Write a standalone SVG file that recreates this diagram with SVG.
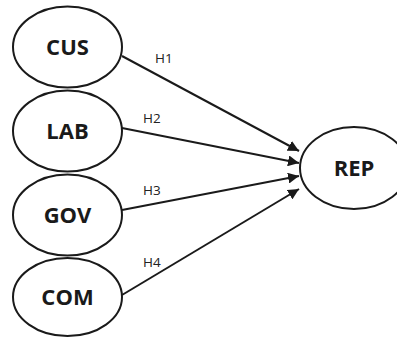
<svg xmlns="http://www.w3.org/2000/svg" width="397" height="337" viewBox="0 0 397 337">
<style>
.node ellipse{fill:#fff;stroke:#1a1a1a;stroke-width:2}
.node text{font-family:"Open Sans","Liberation Sans",sans-serif;font-weight:bold;font-size:22px;fill:#1a1a1a;text-anchor:middle}
.edges line{stroke:#1a1a1a;stroke-width:2;marker-end:url(#ah)}
.lbl{font-family:"Open Sans","Liberation Sans",sans-serif;font-size:13.5px;fill:#222}
</style>
<defs>
<marker id="ah" viewBox="0 0 10 10" refX="10" refY="5" markerWidth="5.5" markerHeight="5.5" orient="auto" markerUnits="strokeWidth">
<path d="M0,0 L10,5 L0,10 z" fill="#1a1a1a"/>
</marker>
</defs>
<rect width="397" height="337" fill="#fff"/>
<g class="edges">
<line x1="122" y1="56" x2="299" y2="151"/>
<line x1="122" y1="128" x2="299" y2="163"/>
<line x1="122" y1="210" x2="299" y2="176"/>
<line x1="122" y1="295" x2="299" y2="189"/>
</g>
<g class="lbl">
<text x="155" y="63">H1</text>
<text x="143" y="123">H2</text>
<text x="143" y="195">H3</text>
<text x="143" y="267">H4</text>
</g>
<g id="CUS" class="node"><ellipse cx="67.5" cy="47" rx="54.5" ry="40.5"/><text x="67.5" y="55">CUS</text></g>
<g id="LAB" class="node"><ellipse cx="67.5" cy="131" rx="54.5" ry="40.5"/><text x="67.5" y="139">LAB</text></g>
<g id="GOV" class="node"><ellipse cx="67.5" cy="215" rx="54.5" ry="40.5"/><text x="67.5" y="223">GOV</text></g>
<g id="COM" class="node"><ellipse cx="67.5" cy="297" rx="54.5" ry="39"/><text x="67.5" y="305">COM</text></g>
<g id="REP" class="node"><ellipse cx="354" cy="168" rx="54" ry="41"/><text x="354" y="176">REP</text></g>
</svg>
